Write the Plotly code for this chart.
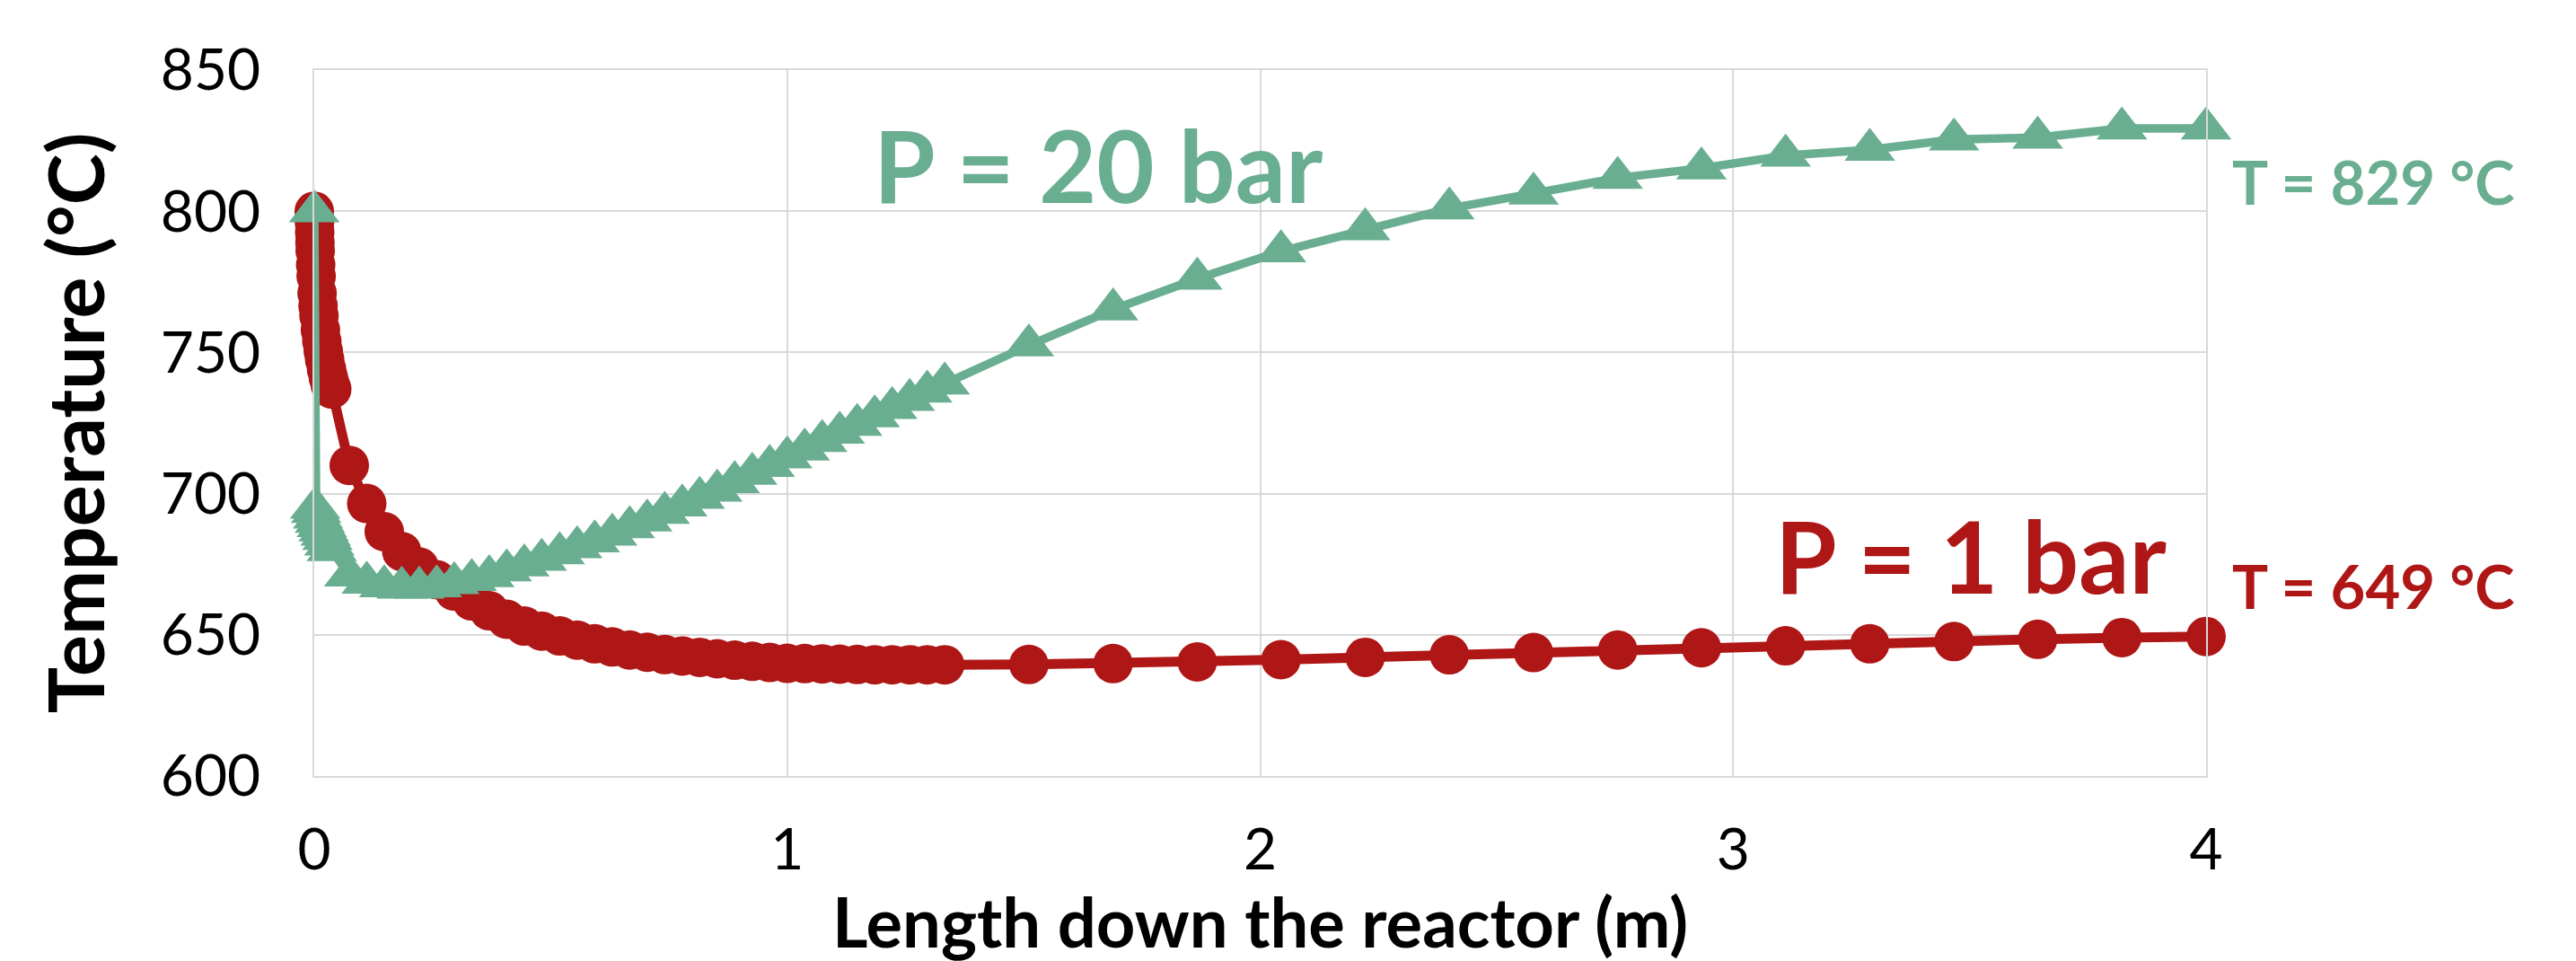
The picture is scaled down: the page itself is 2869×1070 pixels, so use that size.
import plotly.graph_objects as go

# ---------------- data ----------------
red_name = "P = 1 bar"
red_x = [0, 0.0005, 0.001, 0.0015, 0.002, 0.003, 0.004, 0.006, 0.008, 0.010,
         0.013, 0.016, 0.019, 0.022, 0.026, 0.030, 0.034, 0.037,
         0.074, 0.111, 0.148, 0.185, 0.222, 0.259, 0.296, 0.333, 0.370, 0.407,
         0.444, 0.481, 0.519, 0.556, 0.593, 0.630, 0.667, 0.704, 0.741, 0.778,
         0.815, 0.852, 0.889, 0.926, 0.963, 1.000, 1.037, 1.074, 1.111, 1.148,
         1.185, 1.222, 1.259, 1.296, 1.333,
         1.511, 1.689, 1.867, 2.044, 2.222, 2.400, 2.578, 2.756, 2.933, 3.111,
         3.289, 3.467, 3.644, 3.822, 4.000]
red_T = [800.0, 796.0, 792.5, 789.0, 786.0, 781.0, 777.0, 771.0, 766.5, 763.0,
         758.0, 754.0, 750.5, 747.5, 744.0, 741.0, 738.5, 737.0,
         710.0, 696.5, 686.5, 679.5, 674.0, 669.5, 665.5, 662.0, 658.5, 655.5,
         653.1, 651.3, 649.6, 648.1, 646.8, 645.7, 644.6, 643.8, 643.0, 642.5,
         642.0, 641.5, 641.0, 640.6, 640.2, 639.9, 639.8, 639.7, 639.6, 639.5,
         639.4, 639.4, 639.4, 639.4, 639.4,
         639.5, 639.8, 640.4, 641.2, 642.0, 642.9, 643.7, 644.6, 645.4, 646.1,
         646.8, 647.6, 648.4, 649.0, 649.4]

green_name = "P = 20 bar"
green_x = [0, 0.002, 0.004, 0.008, 0.012, 0.016, 0.020, 0.024, 0.028, 0.032, 0.037,
           0.074, 0.111, 0.148, 0.185, 0.222, 0.259, 0.296, 0.333, 0.370, 0.407,
           0.444, 0.481, 0.519, 0.556, 0.593, 0.630, 0.667, 0.704, 0.741, 0.778,
           0.815, 0.852, 0.889, 0.926, 0.963, 1.000, 1.037, 1.074, 1.111, 1.148,
           1.185, 1.222, 1.259, 1.296, 1.333,
           1.511, 1.689, 1.867, 2.044, 2.222, 2.400, 2.578, 2.756, 2.933, 3.111,
           3.289, 3.467, 3.644, 3.822, 4.000]
green_T = [800.0, 695.0, 693.5, 691.5, 690.0, 688.5, 687.0, 685.5, 684.0, 682.0, 680.0,
           671.0, 668.5, 667.2, 666.7, 666.7, 667.2, 668.3, 669.4, 670.8, 672.8,
           674.6, 676.6, 678.9, 681.0, 683.1, 685.5, 688.1, 690.5, 693.2, 695.8,
           698.5, 701.1, 704.1, 707.0, 709.8, 712.8, 715.6, 718.6, 721.6, 724.4,
           727.4, 730.3, 733.2, 736.1, 739.0,
           752.5, 765.2, 776.1, 785.8, 793.6, 801.0, 806.3, 811.8, 815.2, 819.7,
           821.8, 825.4, 826.1, 829.3, 829.3]

x_ticks = [0, 1, 2, 3, 4]
y_ticks = [600, 650, 700, 750, 800, 850]
x_title = "Length down the reactor (m)"
y_title = "Temperature (°C)"
end_label_green = "T = 829 °C"
end_label_red = "T = 649 °C"

# ---------------- styling ----------------
RED = "#AF1616"
GREEN = "#6AAE91"
GRID = "#D9D9D9"
FONT = "Lato"

fig = go.Figure()
fig.add_trace(go.Scatter(
    x=red_x, y=red_T, name=red_name, mode="lines+markers",
    line=dict(color=RED, width=11),
    marker=dict(symbol="circle", size=44, color=RED),
    cliponaxis=False, showlegend=False))
fig.add_trace(go.Scatter(
    x=green_x, y=green_T, name=green_name, mode="lines+markers",
    line=dict(color=GREEN, width=9.5),
    marker=dict(symbol="triangle-up", size=49, color=GREEN),
    cliponaxis=False, showlegend=False))

axis_common = dict(
    showgrid=True, gridcolor=GRID, gridwidth=2,
    showline=True, linecolor=GRID, linewidth=2, mirror=True,
    zeroline=False, automargin=False,
    ticks="outside", tickcolor="rgba(0,0,0,0)",
    tickfont=dict(family=FONT, size=64, color="#000000"),
)

fig.update_xaxes(range=[0, 4], tickvals=x_ticks, ticklen=25, **axis_common)
fig.update_yaxes(range=[600, 850], tickvals=y_ticks, ticklen=45,
                 title=dict(text=y_title, standoff=34,
                            font=dict(family=FONT, size=86, color="#000000", weight="bold")),
                 **axis_common)

# x-axis title, placed just above the bottom edge like the reference
fig.add_annotation(text=x_title, xref="paper", yref="paper", x=0.5, y=-0.205,
                   xanchor="center", yanchor="middle", showarrow=False,
                   font=dict(family=FONT, size=76, color="#000000", weight="bold"))

annos = [
    dict(text=green_name, x=0.4144, y=0.867, color=GREEN, size=111),
    dict(text=red_name, x=0.8761, y=0.313, color=RED, size=111),
    dict(text=end_label_green, x=1.0887, y=0.8424, color=GREEN, size=67),
    dict(text=end_label_red, x=1.0887, y=0.270, color=RED, size=67),
]
for a in annos:
    fig.add_annotation(text=a["text"], xref="paper", yref="paper", x=a["x"], y=a["y"],
                       xanchor="center", yanchor="middle", showarrow=False,
                       font=dict(family=FONT, size=a["size"], color=a["color"], weight="bold"))

fig.update_layout(
    width=2869, height=1070,
    margin=dict(l=350, r=412, t=78, b=206),
    paper_bgcolor="white", plot_bgcolor="white",
    template="none",
    showlegend=False,
)

fig.write_html("out.html")
